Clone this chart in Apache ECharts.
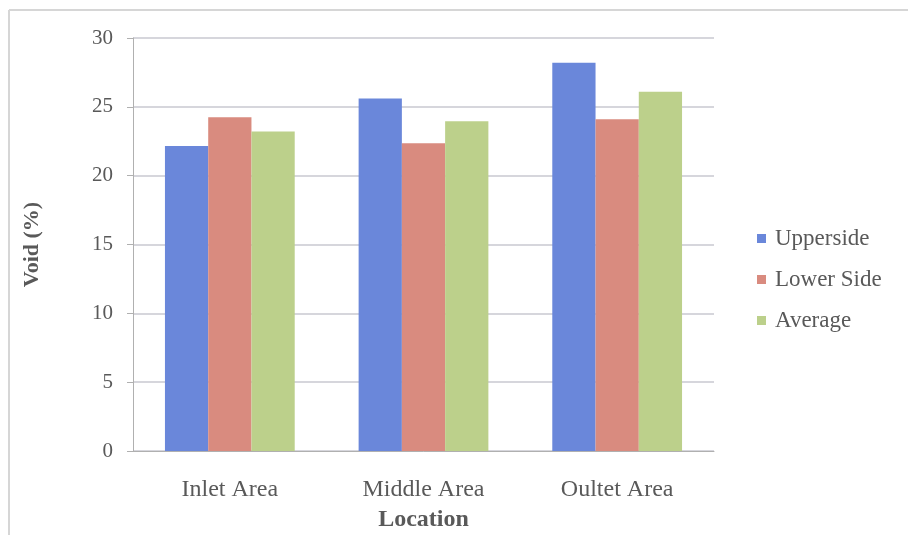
<!DOCTYPE html>
<html>
<head>
<meta charset="utf-8">
<script src="https://cdn.jsdelivr.net/npm/echarts@6/dist/echarts.min.js"></script>
<style>
  html, body { margin: 0; padding: 0; background: #fff; }
  #chart { width: 908px; height: 535px; }
</style>
</head>
<body>
<div id="chart"></div>
<script>
// Void content by location
const categories = ['Inlet Area', 'Middle Area', 'Oultet Area'];
const upperside = [22.15, 25.6, 28.2];
const lowerSide = [24.25, 22.35, 24.1];
const average = [23.2, 23.95, 26.1];
const seriesNames = ['Upperside', 'Lower Side', 'Average'];
const yTicks = { min: 0, max: 30, interval: 5 };

const colors = ['#6a87da', '#d98b7f', '#bcd08b'];
const font = 'Liberation Serif, Times New Roman, serif';
const textColor = '#595959';

const chart = echarts.init(document.getElementById('chart'), null, { renderer: 'canvas' });

const seriesData = [upperside, lowerSide, average];

chart.setOption({
  backgroundColor: '#ffffff',
  animation: false,
  color: colors,
  graphic: [
    { type: 'line', shape: { x1: 9, y1: 10, x2: 908, y2: 10 }, style: { stroke: '#d6d6d6', lineWidth: 2 } },
    { type: 'line', shape: { x1: 9, y1: 10, x2: 9, y2: 535 }, style: { stroke: '#d6d6d6', lineWidth: 2 } }
  ],
  grid: { left: 133, right: 194, top: 38, bottom: 84, containLabel: false, outerBoundsMode: 'none' },
  legend: {
    orient: 'vertical',
    left: 752,
    top: 222,
    itemWidth: 9,
    itemHeight: 9,
    itemGap: 18,
    icon: 'rect',
    textStyle: { fontFamily: font, fontSize: 23, color: textColor, padding: [0, 0, 0, 4] },
    data: seriesNames
  },
  xAxis: {
    type: 'category',
    data: categories,
    name: 'Location',
    nameLocation: 'middle',
    nameGap: 57,
    nameTextStyle: { fontFamily: font, fontSize: 24, fontWeight: 'bold', color: textColor },
    axisLine: { show: true, lineStyle: { color: '#b0b0b0', width: 1 } },
    axisTick: { show: false },
    axisLabel: { fontFamily: font, fontSize: 24, color: textColor, margin: 27 }
  },
  yAxis: {
    type: 'value',
    min: yTicks.min,
    max: yTicks.max,
    interval: yTicks.interval,
    name: 'Void (%)',
    nameLocation: 'middle',
    nameGap: 90,
    nameRotate: 90,
    nameTextStyle: { fontFamily: font, fontSize: 22, fontWeight: 'bold', color: textColor },
    axisLine: { show: true, lineStyle: { color: '#b0b0b0', width: 1 } },
    axisTick: { show: true, length: 6, lineStyle: { color: '#b0b0b0' } },
    axisLabel: { fontFamily: font, fontSize: 21, color: textColor, margin: 20 },
    splitLine: { show: true, lineStyle: { color: '#c8c8d0', width: 1.5 } }
  },
  series: seriesNames.map((name, i) => ({
    name: name,
    type: 'bar',
    data: seriesData[i],
    barGap: '0%',
    barCategoryGap: '33%',
    itemStyle: { color: colors[i] }
  }))
});
</script>
</body>
</html>
